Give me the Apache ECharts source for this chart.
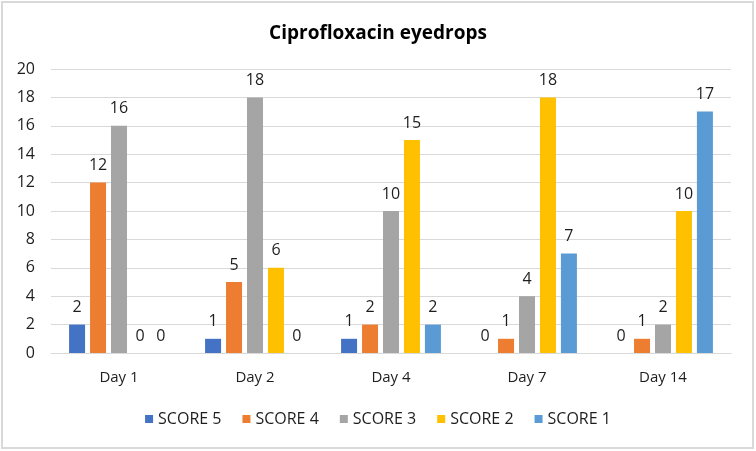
<!DOCTYPE html>
<html><head><meta charset="utf-8">
<script src="https://cdn.jsdelivr.net/npm/echarts@6/dist/echarts.min.js"></script>
<style>html,body{margin:0;padding:0;background:#fff}#c{width:756px;height:451px}</style>
</head><body><div id="c"></div>
<script>
var categories = ['Day 1', 'Day 2', 'Day 4', 'Day 7', 'Day 14'];
var seriesNames = ['SCORE 5', 'SCORE 4', 'SCORE 3', 'SCORE 2', 'SCORE 1'];
var score5 = [2, 1, 1, 0, 0];
var score4 = [12, 5, 2, 1, 1];
var score3 = [16, 18, 10, 4, 2];
var score2 = [0, 6, 15, 18, 10];
var score1 = [0, 0, 2, 7, 17];
var colors = ['#4472C4', '#ED7D31', '#A5A5A5', '#FFC000', '#5B9BD5'];
var yTicks = [0, 2, 4, 6, 8, 10, 12, 14, 16, 18, 20];

var values = [score5, score4, score3, score2, score1];
var font = 'Open Sans, sans-serif';
var txt = '#1e1e1e';
var chart = echarts.init(document.getElementById('c'));
chart.setOption({
  animation: false,
  color: colors,
  title: {
    text: 'Ciprofloxacin eyedrops', left: 'center', top: 19,
    textStyle: { fontFamily: font, fontSize: 19, fontWeight: 'bold', color: '#000' }
  },
  graphic: [{
    type: 'rect', shape: { x: 2, y: 2, width: 751, height: 446 },
    style: { fill: 'none', stroke: '#D9D9D9', lineWidth: 2 }, silent: true
  }],
  legend: {
    bottom: 19, left: 'center', itemWidth: 8, itemHeight: 8, itemGap: 21,
    icon: 'rect',
    textStyle: { fontFamily: font, fontSize: 16, color: txt },
    data: seriesNames
  },
  grid: { left: 51, right: 25, top: 69, bottom: 98 },
  xAxis: {
    type: 'category', data: categories,
    axisLine: { lineStyle: { color: '#D9D9D9' } },
    axisTick: { show: false },
    axisLabel: { fontFamily: font, fontSize: 15, color: txt, margin: 17 }
  },
  yAxis: {
    type: 'value', min: yTicks[0], max: yTicks[yTicks.length - 1], interval: 2,
    axisLine: { show: false }, axisTick: { show: false },
    splitLine: { lineStyle: { color: '#D9D9D9' } },
    axisLabel: { fontFamily: font, fontSize: 16, color: txt, margin: 16 }
  },
  series: seriesNames.map(function (n, i) {
    return {
      name: n, type: 'bar', data: values[i],
      barWidth: 16, barGap: '31%', barCategoryGap: '27%',
      itemStyle: { color: colors[i] },
      label: { show: true, position: 'top', distance: 9, fontFamily: font, fontSize: 16, color: txt }
    };
  })
});
</script></body></html>
